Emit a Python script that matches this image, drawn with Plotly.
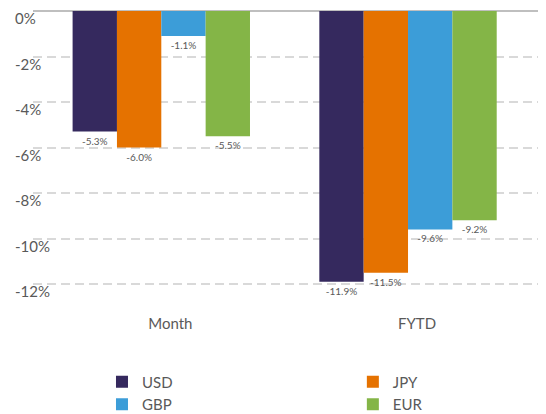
import plotly.graph_objects as go

categories = ["Month", "FYTD"]
series_names = ["USD", "JPY", "GBP", "EUR"]
usd = [-5.3, -11.9]
jpy = [-6.0, -11.5]
gbp = [-1.1, -9.6]
eur = [-5.5, -9.2]
colors = ["#35295E", "#E57200", "#3C9DD8", "#84B547"]
legend_ids = ["legend", "legend2", "legend", "legend2"]
ytick_vals = [0, -2, -4, -6, -8, -10, -12]
ytick_text = ["0%", "-2%", "-4%", "-6%", "-8%", "-10%", "-12%"]

FONT = "Lato"
GREY = "#595959"

fig = go.Figure()
for name, vals, col, lg in zip(series_names, [usd, jpy, gbp, eur], colors, legend_ids):
    fig.add_trace(go.Bar(
        name=name, x=categories, y=vals, marker_color=col, marker_line_width=0,
        text=[f"{v:.1f}%" for v in vals], textposition="outside",
        textfont=dict(family=FONT, size=10, color=GREY), cliponaxis=False,
        legend=lg,
    ))

annotations = [
    dict(xref="paper", yref="y", x=-0.039, y=v, text=t, showarrow=False,
         xanchor="left", yanchor="middle", yshift=-7,
         font=dict(family=FONT, size=15, color=GREY))
    for v, t in zip(ytick_vals, ytick_text)
]

legend_common = dict(orientation="v", xref="container", yref="container",
                     xanchor="left", yanchor="top", traceorder="normal",
                     bgcolor="rgba(0,0,0,0)",
                     font=dict(family=FONT, size=15, color=GREY))

fig.update_layout(
    width=538, height=406,
    margin=dict(l=25, r=5, t=3, b=101, autoexpand=False),
    paper_bgcolor="white", plot_bgcolor="white",
    barmode="group", bargap=0.281, bargroupgap=0,
    font=dict(family=FONT, color=GREY),
    showlegend=True,
    legend=dict(x=0.1747, y=0.1194, **legend_common),
    legend2=dict(x=0.641, y=0.1194, **legend_common),
    annotations=annotations,
    xaxis=dict(range=[-0.52, 1.539], showgrid=False, zeroline=False, showline=False,
               ticks="", tickfont=dict(family=FONT, size=15, color=GREY),
               ticklabelshift=9),
    yaxis=dict(range=[-13.27, 0], tickvals=ytick_vals, showticklabels=False,
               showgrid=True, gridcolor="#D9D9D9", gridwidth=1.5, griddash="9px,5px",
               zeroline=True, zerolinecolor="#BFBFBF", zerolinewidth=2,
               showline=False, ticks=""),
)

fig.write_html("out.html")
